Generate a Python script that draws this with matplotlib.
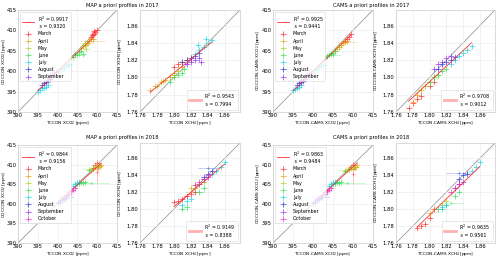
import numpy as np
import matplotlib
matplotlib.use('Agg')
from matplotlib import pyplot as plt

# months and colours
months17 = ['March', 'April', 'May', 'June', 'July', 'August', 'September']
months18 = months17 + ['October']
monthColors = {'March': '#ff3030', 'April': '#e8a317', 'May': '#a8d62a',
               'June': '#35e055', 'July': '#1fd6ea', 'August': '#2f3fe0',
               'September': '#9a33ee', 'October': '#e633c8'}

# ---- MAP 2017 ----
map17_co2 = {
    'March': ([408.5, 409, 409.5, 410, 409.2, 408.8], [408.5, 409, 409.5, 410, 409.8, 408.8]),
    'April': ([407, 407.5, 408, 408.5, 409, 407.8], [406.5, 407, 407.5, 407.8, 408, 406.8]),
    'May': ([406, 406.5, 407, 407.5, 406.8, 407.2], [405.8, 406.2, 406.5, 407, 406.8, 405.5]),
    'June': ([404, 404.5, 405, 405.5, 406, 406.5], [403.5, 404, 404.3, 404.8, 405, 404.2]),
    'July': ([395, 395.5, 396, 396.5, 397, 397.5, 401, 401.5, 402, 402.5, 403],
             [395, 395.5, 395.8, 396, 396.2, 396.5, 400.5, 400.8, 401.2, 401.5, 401.8]),
    'August': ([396, 396.5, 397, 397.5, 398, 398.5], [396.5, 397, 397.3, 397.8, 398, 398.5]),
    'September': ([397.5, 398, 398.5, 399, 399.5, 400], [398.3, 398.8, 399, 399.5, 399.8, 400]),
}
map17_co2_wide = [('April', 409.0, 407.5, 3.0, 0.3), ('June', 405.5, 404.0, 1.5, 0.3)]
map17_ch4 = {
    'March': ([1.80, 1.805, 1.81, 1.815, 1.82], [1.812, 1.815, 1.818, 1.82, 1.822]),
    'April': ([1.772, 1.778, 1.785, 1.79, 1.795, 1.80, 1.81], [1.785, 1.79, 1.795, 1.797, 1.80, 1.803, 1.812]),
    'May': ([1.78, 1.787, 1.795, 1.80, 1.805], [1.79, 1.796, 1.80, 1.805, 1.808]),
    'June': ([1.795, 1.80, 1.805, 1.81, 1.812], [1.795, 1.80, 1.803, 1.805, 1.81]),
    'July': ([1.825, 1.83, 1.835, 1.84, 1.845, 1.838, 1.828], [1.827, 1.832, 1.835, 1.84, 1.843, 1.845, 1.838]),
    'August': ([1.81, 1.815, 1.82, 1.825, 1.83], [1.818, 1.82, 1.823, 1.825, 1.828]),
    'September': ([1.815, 1.82, 1.825, 1.83, 1.832], [1.815, 1.818, 1.82, 1.822, 1.818]),
}
map17_ch4_wide = []

# ---- CAMS 2017 ----
cams17_co2 = {
    'March': ([408, 408.5, 409, 409.5], [407.5, 408, 408.5, 409]),
    'April': ([406.5, 407, 407.5, 408, 408.5], [406, 406.5, 407, 407.2, 407.5]),
    'May': ([405.5, 406, 406.5, 407], [405, 405.5, 406, 406.3]),
    'June': ([403.5, 404, 404.5, 405, 405.5], [403.8, 404, 404.3, 404.5, 405]),
    'July': ([395, 395.5, 396, 396.5, 397, 400.5, 401, 401.5, 402, 402.5],
             [395.3, 395.6, 396, 396.2, 396.5, 400.2, 400.6, 401, 401.3, 401.6]),
    'August': ([396, 396.5, 397, 397.5, 398], [396.5, 397, 397.3, 397.6, 398]),
    'September': ([397, 397.5, 398, 398.5, 399], [397.8, 398.2, 398.6, 399, 399.3]),
}
cams17_co2_wide = [('April', 408.5, 407.2, 2.5, 0.3), ('June', 405.0, 404.0, 2.0, 0.3)]
cams17_ch4 = {
    'March': ([1.775, 1.78, 1.785, 1.79, 1.80, 1.805], [1.765, 1.77, 1.775, 1.778, 1.79, 1.795]),
    'April': ([1.78, 1.785, 1.79, 1.795, 1.80], [1.772, 1.78, 1.785, 1.79, 1.795]),
    'May': ([1.79, 1.795, 1.80, 1.805, 1.81], [1.785, 1.79, 1.795, 1.80, 1.803]),
    'June': ([1.80, 1.805, 1.81, 1.815, 1.82], [1.795, 1.80, 1.803, 1.808, 1.81]),
    'July': ([1.825, 1.83, 1.835, 1.84, 1.845, 1.85], [1.815, 1.82, 1.825, 1.828, 1.832, 1.836]),
    'August': ([1.81, 1.815, 1.82, 1.825, 1.83], [1.81, 1.815, 1.818, 1.82, 1.824]),
    'September': ([1.805, 1.81, 1.815, 1.82, 1.825], [1.81, 1.815, 1.818, 1.822, 1.825]),
}
cams17_ch4_wide = []

# ---- MAP 2018 ----
map18_co2 = {
    'March': ([409, 409.5, 410, 410.2], [409.2, 409.8, 410.3, 409.5]),
    'April': ([410, 410.5, 411, 410.8], [409.3, 409.8, 410, 409.6]),
    'May': ([408.5, 409, 409.5, 410, 410.5], [408.7, 409, 409.3, 409.7, 409.5]),
    'June': ([405, 405.5, 406, 406.5, 407, 408], [405, 405.2, 405.5, 405.3, 405.6, 408.5]),
    'July': ([401, 401.5, 404, 404.5, 405, 405.5], [401, 401.3, 404.5, 405, 405.2, 405.5]),
    'August': ([400, 400.5, 401, 401.5, 402], [400.2, 400.5, 401, 401.2, 401.6]),
    'September': ([401, 401.5, 402, 402.5, 403], [401.2, 401.6, 402, 402.3, 402.6]),
    'October': ([403, 403.5, 404, 404.5], [403, 403.3, 403.6, 404]),
}
map18_co2_wide = [('March', 410.0, 408.0, 0.3, 2.5), ('June', 408.5, 405.3, 4.5, 0.3),
                  ('May', 408.0, 408.8, 2.0, 0.3), ('August', 402.0, 401.8, 2.0, 0.3)]
map18_ch4 = {
    'March': ([1.80, 1.805, 1.81, 1.815, 1.82, 1.825], [1.808, 1.81, 1.812, 1.815, 1.818, 1.82]),
    'April': ([1.82, 1.825, 1.83], [1.825, 1.828, 1.83]),
    'May': ([1.825, 1.83, 1.835], [1.825, 1.83, 1.832]),
    'June': ([1.81, 1.815, 1.83, 1.835], [1.80, 1.802, 1.82, 1.825]),
    'July': ([1.81, 1.815, 1.82, 1.845, 1.85, 1.855, 1.86], [1.805, 1.81, 1.812, 1.842, 1.845, 1.85, 1.855]),
    'August': ([1.835, 1.84, 1.845], [1.838, 1.842, 1.845]),
    'September': ([1.83, 1.835, 1.84], [1.83, 1.835, 1.838]),
    'October': ([1.825, 1.83, 1.835, 1.84], [1.828, 1.832, 1.835, 1.84]),
}
map18_ch4_wide = [('June', 1.825, 1.82, 0.012, 0.001), ('August', 1.84, 1.848, 0.012, 0.001)]

# ---- CAMS 2018 ----
cams18_co2 = {
    'March': ([409, 409.5, 410, 410.2], [409, 409.5, 410, 409.3]),
    'April': ([410, 410.5, 411, 410.8], [409, 409.5, 409.8, 409.3]),
    'May': ([408.5, 409, 409.5, 410, 410.5], [408.5, 408.8, 409.1, 409.5, 409.3]),
    'June': ([405, 405.5, 406, 406.5, 407, 408], [405, 405.2, 405.5, 405.3, 405.6, 408.3]),
    'July': ([401, 401.5, 404, 404.5, 405, 405.5], [401, 401.3, 404.5, 405, 405.2, 405.5]),
    'August': ([400, 400.5, 401, 401.5, 402], [400.2, 400.5, 401, 401.2, 401.6]),
    'September': ([401, 401.5, 402, 402.5, 403], [401.2, 401.6, 402, 402.3, 402.6]),
    'October': ([403, 403.5, 404, 404.5], [403, 403.3, 403.6, 404]),
}
cams18_co2_wide = [('March', 410.0, 407.5, 0.3, 2.5), ('June', 408.5, 405.3, 4.5, 0.3),
                   ('May', 408.0, 408.5, 2.0, 0.3), ('August', 402.0, 401.8, 2.0, 0.3)]
cams18_ch4 = {
    'March': ([1.785, 1.79, 1.795, 1.80, 1.805], [1.778, 1.78, 1.783, 1.79, 1.80]),
    'April': ([1.80, 1.805], [1.795, 1.80]),
    'May': ([1.81, 1.815, 1.82], [1.80, 1.805, 1.81]),
    'June': ([1.815, 1.82, 1.83, 1.835], [1.80, 1.805, 1.815, 1.82]),
    'July': ([1.81, 1.815, 1.82, 1.85, 1.855, 1.86], [1.80, 1.802, 1.805, 1.845, 1.85, 1.855]),
    'August': ([1.835, 1.84, 1.845], [1.835, 1.84, 1.842]),
    'September': ([1.83, 1.835, 1.84], [1.825, 1.83, 1.832]),
    'October': ([1.825, 1.83, 1.835], [1.82, 1.825, 1.83]),
}
cams18_ch4_wide = [('June', 1.825, 1.807, 0.015, 0.001), ('August', 1.835, 1.843, 0.015, 0.001)]

# fit statistics (R^2, slope)
stats = {'map17_co2': (0.9917, 0.9320), 'map17_ch4': (0.9543, 0.7994),
         'cams17_co2': (0.9925, 0.9441), 'cams17_ch4': (0.9708, 0.9012),
         'map18_co2': (0.9844, 0.9156), 'map18_ch4': (0.9149, 0.8388),
         'cams18_co2': (0.9863, 0.9484), 'cams18_ch4': (0.9635, 0.9561)}

FS = 3.4

def drawPanel(ax, data, wide, st, months, gas, prefix):
    if gas == 'co2':
        lims = (390, 415)
        ticks = np.arange(390, 416, 5)
        err = (0.45, 0.45)
        gname = 'XCO$_2$'
        labx = -0.105
    else:
        lims = (1.76, 1.878)
        ticks = np.arange(1.76, 1.861, 0.02)
        err = (0.0025, 0.0025)
        gname = 'XCH$_4$'
        labx = -0.16
    ax.plot(lims, lims, color='#888888', lw=0.5, zorder=1)
    allx, ally = [], []
    mh = []
    for m in months:
        xs, ys = data[m]
        allx += xs
        ally += ys
        h = ax.errorbar(xs, ys, xerr=err[0], yerr=err[1], fmt='+', color=monthColors[m],
                        ms=4, mew=0.6, elinewidth=0.5, alpha=0.6, zorder=3)
        mh.append(h)
    for m, x, y, xe, ye in wide:
        ax.errorbar([x], [y], xerr=xe, yerr=ye, fmt='+', color=monthColors[m],
                    ms=3, mew=0.5, elinewidth=0.4, alpha=0.45, zorder=2)
    r2, s = st
    xm, ym = np.mean(allx), np.mean(ally)
    xl = np.array([min(allx), max(allx)])
    fitLabel = 'R$^2$ = %.4f\n s = %.4f' % (r2, s)
    fit, = ax.plot(xl, ym + s * (xl - xm), color='#ff3030', lw=0.6, zorder=4)
    ax.set_xlim(lims)
    ax.set_ylim(lims)
    ax.set_xticks(ticks)
    ax.set_yticks(ticks)
    if gas == 'ch4':
        ax.set_xticklabels(['%.2f' % t for t in ticks])
        ax.set_yticklabels(['%.2f' % t for t in ticks])
    ax.tick_params(length=0, labelsize=FS + 0.4, pad=1)
    ax.grid(True, color='#e8e8e8', lw=0.4)
    for sp in ax.spines.values():
        sp.set_color('#cccccc')
        sp.set_linewidth(0.5)
    ax.set_xlabel('TCCON%s %s [ppm]' % (prefix, gname), fontsize=FS - 0.3, labelpad=0.5)
    ax.set_ylabel('COCCON%s %s [ppm]' % (prefix, gname), fontsize=FS - 0.3)
    ax.yaxis.set_label_coords(labx, 0.5)
    if gas == 'co2':
        leg = ax.legend([fit] + mh, [fitLabel] + months, loc='upper left', fontsize=FS,
                        frameon=True, handlelength=2.5, labelspacing=0.45, borderpad=0.4)
    else:
        pink, = ax.plot([], [], color='#ff9090', lw=2.0, alpha=0.7)
        leg = ax.legend([pink], [fitLabel], loc='lower right', fontsize=FS,
                        handlelength=2.5, borderpad=0.5)
    leg.get_frame().set_linewidth(0.4)
    leg.get_frame().set_edgecolor('#cccccc')


fig = plt.figure(figsize=(5.0, 2.59), dpi=100)
H = 259.0
W = 500.0

def axAt(l, r, t, b):
    return fig.add_axes([l / W, 1 - b / H, (r - l) / W, (b - t) / H])

panels = [
    (18, 117, 10, 112, map17_co2, map17_co2_wide, 'map17_co2', months17, 'co2', ''),
    (140, 240, 10, 112, map17_ch4, map17_ch4_wide, 'map17_ch4', months17, 'ch4', ''),
    (273, 373, 10, 112, cams17_co2, cams17_co2_wide, 'cams17_co2', months17, 'co2', '-CAMS'),
    (396, 495, 10, 112, cams17_ch4, cams17_ch4_wide, 'cams17_ch4', months17, 'ch4', '-CAMS'),
    (18, 117, 145, 243, map18_co2, map18_co2_wide, 'map18_co2', months18, 'co2', ''),
    (140, 240, 143, 243, map18_ch4, map18_ch4_wide, 'map18_ch4', months18, 'ch4', ''),
    (273, 373, 145, 243, cams18_co2, cams18_co2_wide, 'cams18_co2', months18, 'co2', '-CAMS'),
    (396, 495, 143, 243, cams18_ch4, cams18_ch4_wide, 'cams18_ch4', months18, 'ch4', '-CAMS'),
]
for l, r, t, b, d, w, key, mons, gas, pre in panels:
    ax = axAt(l, r, t, b)
    drawPanel(ax, d, w, stats[key], mons, gas, pre)

fig.text(122 / W, 1 - 5 / H, 'MAP a priori profiles in 2017', fontsize=FS + 0.3, ha='center', va='center')
fig.text(371 / W, 1 - 5 / H, 'CAMS a priori profiles in 2017', fontsize=FS + 0.3, ha='center', va='center')
fig.text(122 / W, 1 - 138 / H, 'MAP a priori profiles in 2018', fontsize=FS + 0.3, ha='center', va='center')
fig.text(371 / W, 1 - 138 / H, 'CAMS a priori profiles in 2018', fontsize=FS + 0.3, ha='center', va='center')

fig.savefig('out.png', dpi=100)
